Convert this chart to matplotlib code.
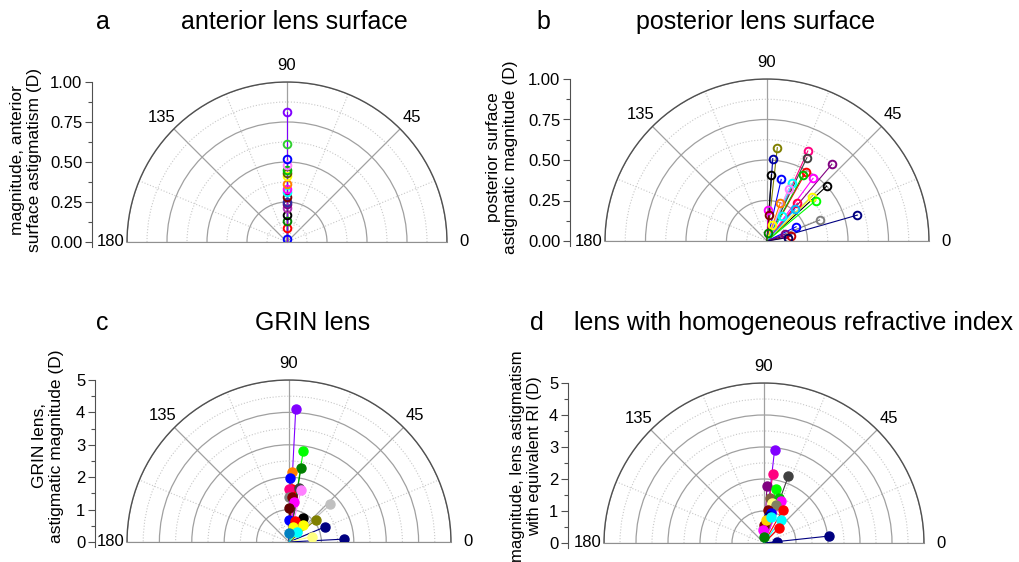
import matplotlib
matplotlib.use("Agg")
import matplotlib.pyplot as plt
import numpy as np

plt.rcParams["font.family"] = ["Liberation Sans", "DejaVu Sans"]

W, H = 1019, 562

# ---- panel a: anterior lens surface (all axes at 90 deg)
a_theta = [90, 90, 90, 90, 90, 90, 90, 90, 90, 90, 90, 90, 90, 90, 90, 90, 90, 90]
a_r = [0.02, 0.09, 0.13, 0.17, 0.21, 0.235, 0.25, 0.28, 0.31, 0.33, 0.365,
       0.41, 0.43, 0.45, 0.48, 0.52, 0.61, 0.81]
a_colors = ["#0000ff", "#ff0000", "#008000", "#000000", "#b030b0", "#800080",
            "#3030a0", "#800000", "#00ffff", "#ff00ff", "#ff8000", "#ffff00",
            "#606000", "#00c000", "#ff80ff", "#0000ff", "#30d030", "#8000ff"]

# ---- panel b: posterior lens surface
b_theta = [83.7, 86, 86.2, 77, 65.6, 64.4, 49.8, 60.5, 61.3, 53.7, 66.3, 67.6,
           42.6, 44.5, 39.6, 51.2, 70.8, 48.5, 88, 86, 60, 21.7, 16, 73.4, 26,
           20.4, 11.5, 9.4, 85]
b_r = [0.58, 0.51, 0.41, 0.39, 0.61, 0.57, 0.62, 0.49, 0.465, 0.48, 0.39, 0.35,
       0.50, 0.39, 0.39, 0.30, 0.25, 0.26, 0.19, 0.16, 0.18, 0.35, 0.58, 0.10,
       0.20, 0.12, 0.15, 0.13, 0.05]
b_colors = ["#808000", "#0000a0", "#000000", "#0000ff", "#ff0080", "#404040",
            "#800080", "#ff0000", "#00c000", "#ff00ff", "#00ffff", "#ff80ff",
            "#000000", "#ffff00", "#00ff00", "#ff0040", "#ff8000", "#00c0ff",
            "#ff00ff", "#800000", "#00ffff", "#808080", "#000080", "#ffff00",
            "#0000ff", "#800080", "#c00000", "#000060", "#008000"]

# ---- panel c: GRIN lens
c_theta = [87.1, 81.1, 80.8, 87.3, 88.8, 87.2, 90, 79.6, 77, 90, 86, 82.6, 89.4,
           42.3, 60, 39.6, 89, 73, 49.8, 22.8, 77, 13.2, 3, 53, 88]
c_r = [4.11, 2.84, 2.32, 2.15, 1.97, 1.65, 1.65, 1.71, 1.66, 1.40, 1.40, 1.26,
       1.06, 1.73, 0.84, 1.07, 0.68, 0.68, 0.68, 1.22, 0.49, 0.72, 1.71, 0.40,
       0.27]
c_colors = ["#8000ff", "#00ff00", "#008000", "#ff8000", "#0000ff", "#ff0000",
            "#ff0080", "#404040", "#ff80ff", "#808080", "#800000", "#ff00ff",
            "#600000", "#c0c0c0", "#000000", "#808000", "#0000ff", "#ff0000",
            "#ffff00", "#000080", "#ffff00", "#ffff80", "#000080", "#00ffff",
            "#0080c0"]

# ---- panel d: lens with homogeneous refractive index
d_theta = [83.5, 82.8, 70, 87, 77.6, 82.5, 71.3, 68, 79, 72.5, 83.6, 60.5, 76.7,
           80, 54, 89, 86, 45, 93, 6.1, 3, 91, 75]
d_r = [2.92, 2.16, 2.23, 1.78, 1.74, 1.43, 1.50, 1.41, 1.26, 1.25, 1.04, 1.18,
       0.95, 0.85, 0.89, 0.56, 0.72, 0.68, 0.41, 2.05, 0.40, 0.20, 0.83]
d_colors = ["#8000ff", "#ff0080", "#404040", "#800080", "#00ff00", "#806040",
            "#00c000", "#ff00ff", "#ffff80", "#808060", "#800000", "#ff0000",
            "#0000ff", "#000080", "#00ffff", "#800000", "#ffd000", "#ff0000",
            "#ff00ff", "#000080", "#000080", "#008000", "#00ffff"]

theta_ticks = [0, 45, 90, 135, 180]
theta_labels = ["0", "45", "90", "135", "180"]


def px_rect(x0, y0, x1, y1):
    return [x0 / W, 1 - y1 / H, (x1 - x0) / W, (y1 - y0) / H]


def draw_panel(fig, center, radius, spine_x, rmax, rstep, fmt, theta, r, colors,
               filled, ylabel, label_xy, label_size, letter, letter_xy, title,
               title_xy):
    cx, cy = center
    # polar half-disk sits centred in a square box of side 2R
    ax = fig.add_axes(px_rect(cx - radius, cy - 1.5 * radius,
                              cx + radius, cy + 0.5 * radius), projection="polar")
    ax.set_thetamin(0)
    ax.set_thetamax(180)
    ax.set_ylim(0, rmax)
    ax.patch.set_visible(False)

    ax.set_xticks(np.deg2rad(theta_ticks))
    ax.set_xticklabels(theta_labels, fontsize=12)
    ax.set_xticks(np.deg2rad([22.5, 67.5, 112.5, 157.5]), minor=True)
    ax.set_yticks(np.arange(rstep, rmax + rstep / 2, rstep))
    ax.set_yticks(np.arange(rstep / 2, rmax, rstep), minor=True)
    ax.set_yticklabels([])
    ax.tick_params(axis="x", which="both", length=0, pad=5)
    ax.tick_params(axis="y", which="both", length=0)
    ax.grid(which="major", color="#a0a0a0", lw=0.9, ls="-")
    ax.grid(which="minor", color="#c8c8c8", lw=0.8, ls=":")
    ax.spines["polar"].set_color("#505050")
    ax.spines["polar"].set_linewidth(1.0)
    ax.spines["start"].set_color("#909090")
    ax.spines["end"].set_color("#909090")

    for th, rv, col in zip(theta, r, colors):
        t = np.deg2rad(th)
        ax.plot([0, t], [0, rv], color=col, lw=0.8, zorder=3)
    for th, rv, col in zip(theta, r, colors):
        t = np.deg2rad(th)
        if filled:
            ax.plot([t], [rv], "o", color=col, ms=6.5, mec=col, zorder=4)
        else:
            ax.plot([t], [rv], "o", mfc="none", mec=col, ms=5.5, mew=1.4, zorder=4)

    # separate vertical radial scale on the left
    ext = 5
    y0, y1 = cy - radius, cy
    sax = fig.add_axes(px_rect(spine_x, y0, spine_x + 1, y1 + ext))
    sax.set_ylim(-rmax * ext / (y1 - y0), rmax)
    major = np.arange(0, rmax + rstep / 2, rstep)
    sax.set_yticks(major)
    sax.set_yticks(np.arange(rstep / 2, rmax, rstep), minor=True)
    sax.set_yticklabels([fmt.format(v) for v in major], fontsize=12)
    sax.set_xticks([])
    sax.patch.set_visible(False)
    for side in ["top", "right", "bottom"]:
        sax.spines[side].set_visible(False)
    sax.spines["left"].set_color("#505050")
    sax.tick_params(axis="y", which="major", length=5, width=0.8, color="#505050", pad=2)
    sax.tick_params(axis="y", which="minor", length=3, width=0.8, color="#505050")

    fig.text(label_xy[0] / W, 1 - label_xy[1] / H, ylabel, rotation=90,
             ha="center", va="center", multialignment="center",
             fontsize=label_size, linespacing=1.15)
    fig.text(letter_xy[0] / W, 1 - letter_xy[1] / H, letter, ha="center",
             va="center", fontsize=18)
    fig.text(title_xy[0] / W, 1 - title_xy[1] / H, title, ha="center",
             va="center", fontsize=18)


fig = plt.figure(figsize=(W / 100, H / 100), dpi=100)

draw_panel(fig, (287, 242), 160, 92, 1.0, 0.25, "{:.2f}",
           a_theta, a_r, a_colors, False,
           "magnitude, anterior\nsurface astigmatism (D)", (26, 160), 12.5,
           "a", (103, 22), "anterior lens surface", (294, 22))

draw_panel(fig, (767, 241), 162, 570, 1.0, 0.25, "{:.2f}",
           b_theta, b_r, b_colors, False,
           "posterior surface\nastigmatic magnitude (D)", (502, 157), 12.5,
           "b", (543, 22), "posterior lens surface", (756, 22))

draw_panel(fig, (289, 542), 162, 95, 5.0, 1.0, "{:.0f}",
           c_theta, c_r, c_colors, True,
           "GRIN lens,\nastigmatic magnitude (D)", (48, 446), 12.5,
           "c", (102, 323), "GRIN lens", (313, 323))

draw_panel(fig, (764, 543), 160, 568, 5.0, 1.0, "{:.0f}",
           d_theta, d_r, d_colors, True,
           "magnitude, lens astigmatism\nwith equivalent RI (D)", (526, 456), 12,
           "d", (537, 323), "lens with homogeneous refractive index", (793, 323))

fig.savefig("out.png", dpi=100)
